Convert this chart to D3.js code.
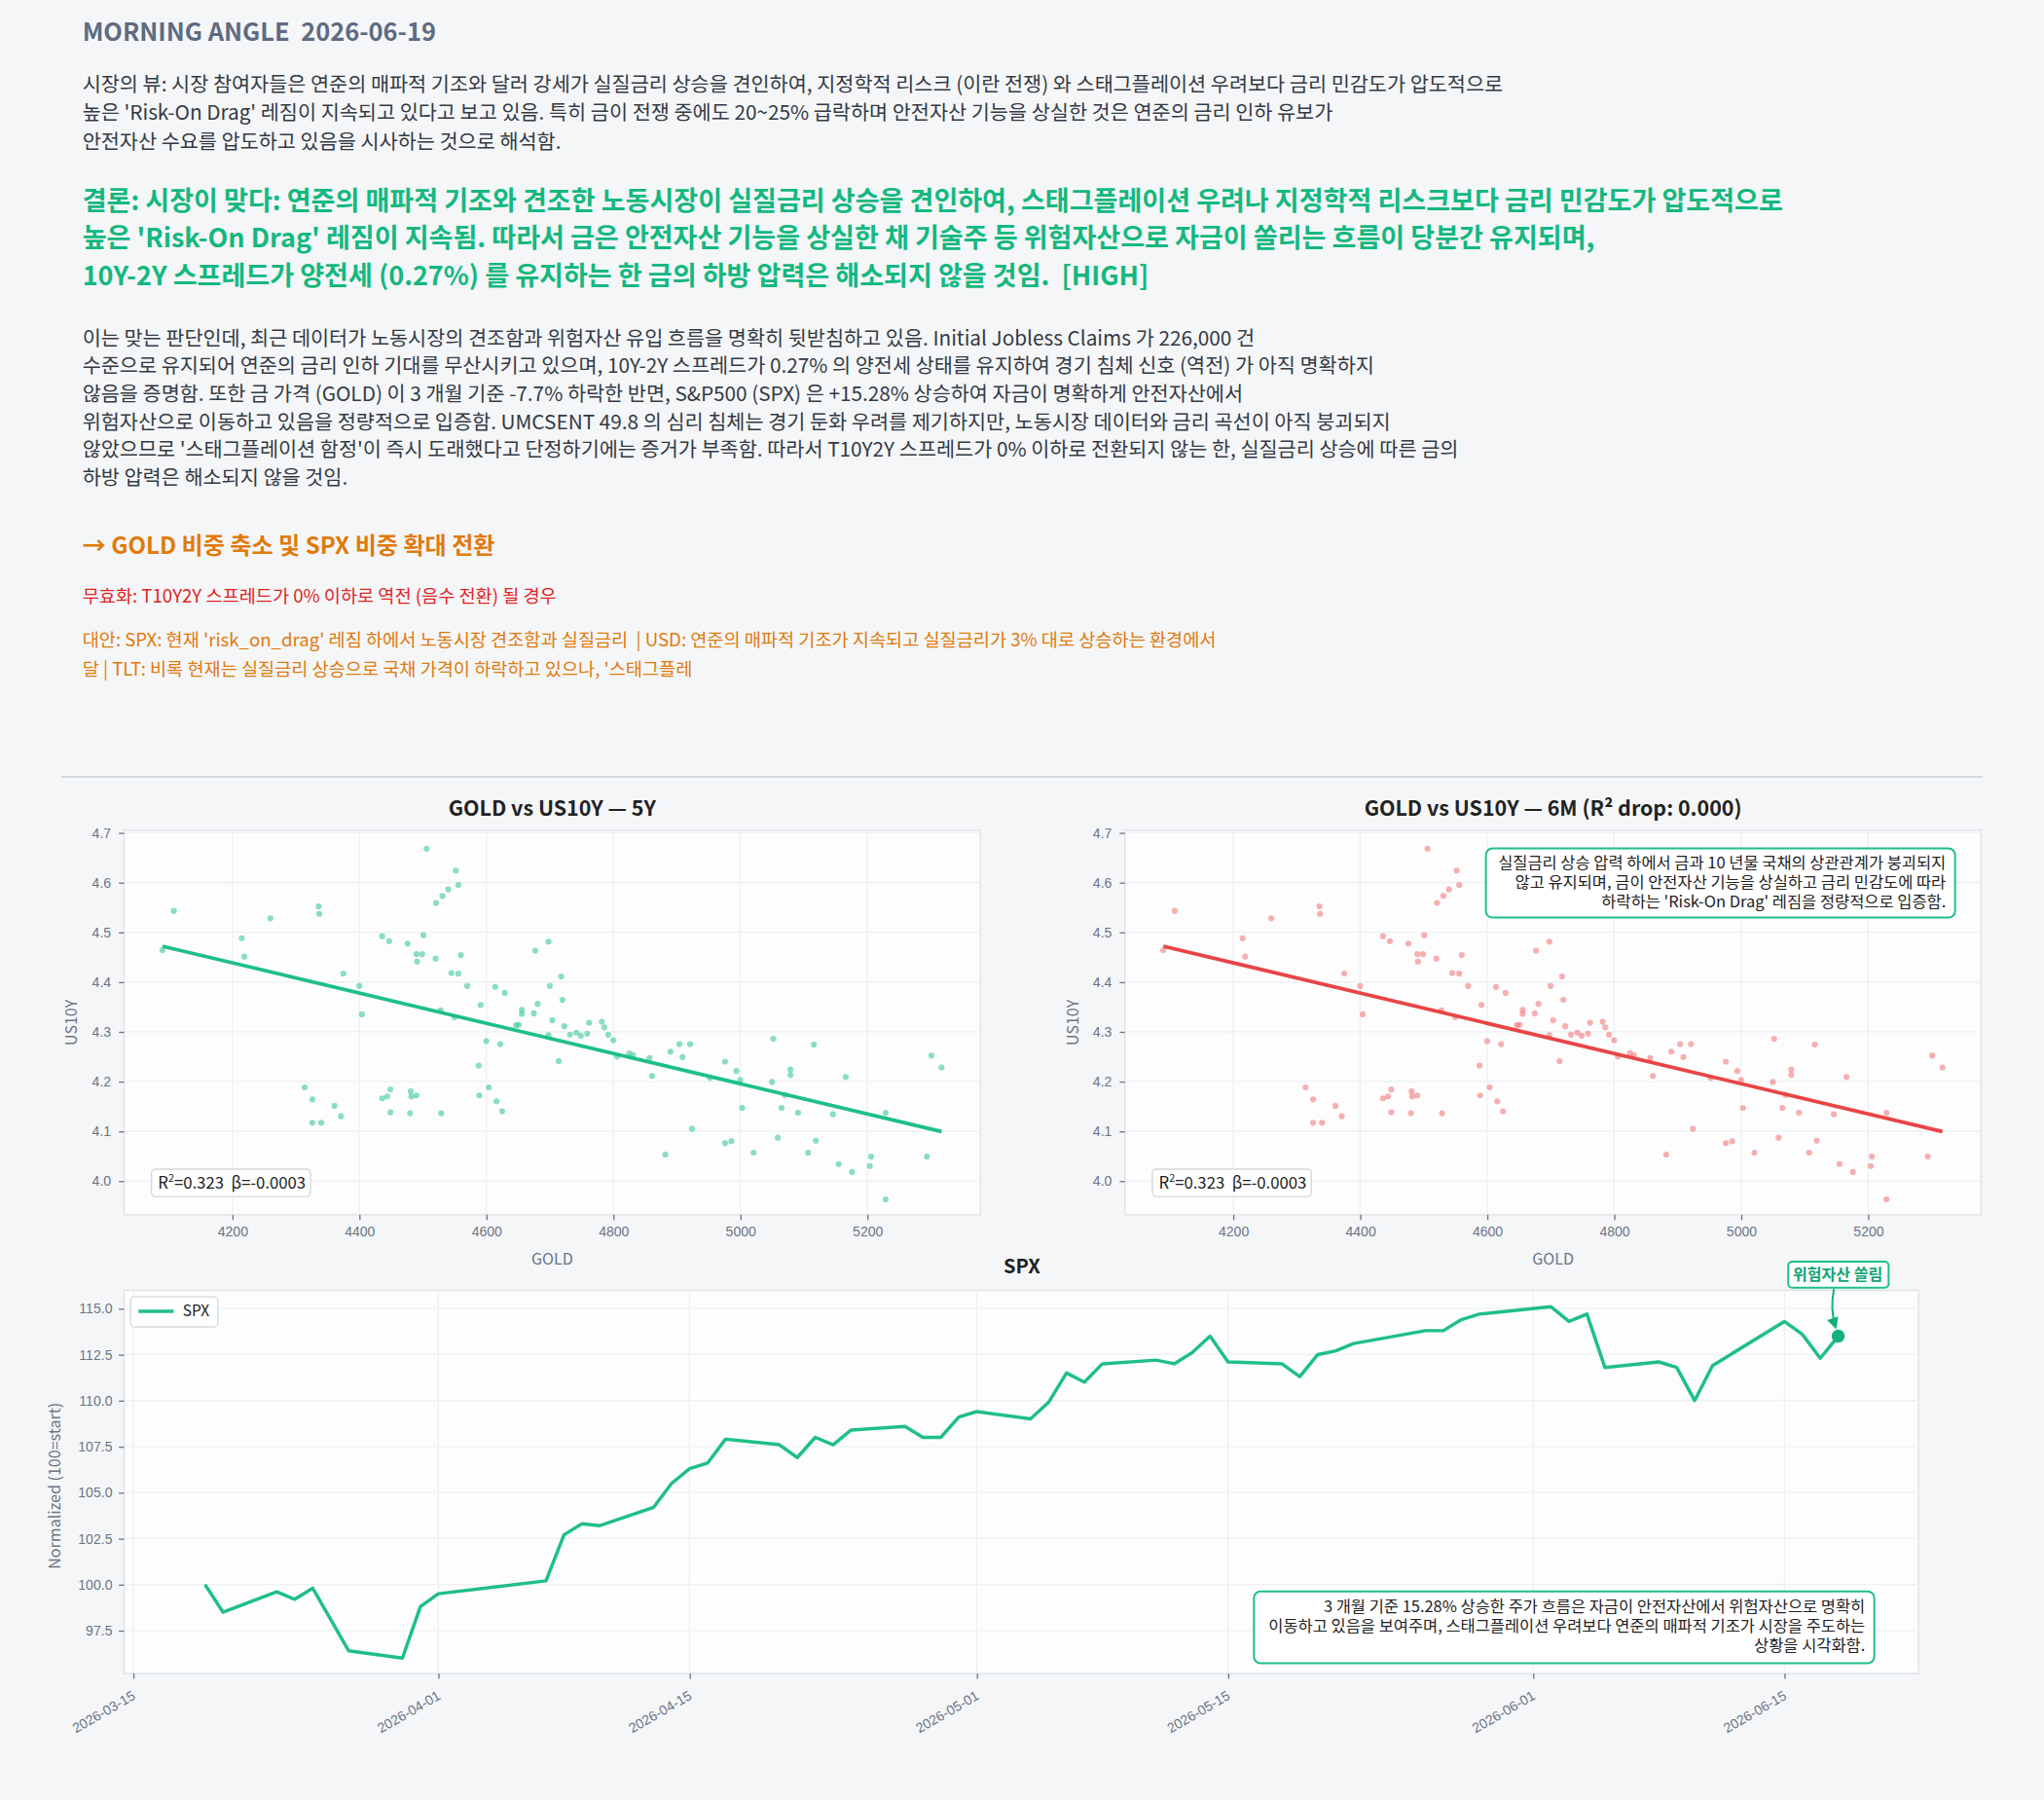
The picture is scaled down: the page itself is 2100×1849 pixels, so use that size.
<!DOCTYPE html>
<html><head><meta charset="utf-8">
<script src="https://cdn.jsdelivr.net/npm/d3@7"></script>
<style>body{margin:0;background:#f5f6f8;}svg{display:block;font-family:"Noto Sans CJK KR","Noto Sans",sans-serif;}text{white-space:pre;}</style>
</head><body><svg id="c" width="2100" height="1849" viewBox="0 0 1568 1381"></svg>
<script>
const gold=[4090,4108,4215,4219,4260,4336,4337,4314,4326,4326,4340,4361,4371,4375,4400,4404,4436,4447,4476,4501,4490,4499,4491,4506,4521,4531,4540,4552,4556,4520,4560,4545,4556,4570,4550,4528,4436,4444,4449,4449,4481,4482,4490,4480,4529,4589,4588,4600,4604,4616,4625,4622,4591,4614,4629,4647,4651,4656,4656,4675,4677,4681,4698,4700,4704,4714,4718,4720,4723,4698,4732,4742,4749,4759,4762,4782,4786,4792,4800,4806,4825,4831,4857,4861,4882,4890,4904,4909,4921,4924,4952,4976,4976,4986,4994,5000,5003,5021,5052,5050,5059,5065,5070,5079,5079,5091,5107,5116,5119,5146,5155,5166,5176,5204,5206,5229,5229,5294,5301,5317];
const us10y=[4.464,4.543,4.488,4.451,4.528,4.552,4.537,4.188,4.164,4.117,4.117,4.151,4.130,4.417,4.392,4.335,4.492,4.482,4.477,4.494,4.456,4.456,4.441,4.668,4.559,4.573,4.586,4.624,4.595,4.447,4.454,4.418,4.417,4.392,4.329,4.343,4.166,4.170,4.184,4.138,4.180,4.170,4.172,4.136,4.136,4.172,4.232,4.281,4.188,4.160,4.140,4.275,4.354,4.390,4.378,4.313,4.314,4.344,4.336,4.337,4.463,4.356,4.481,4.392,4.323,4.241,4.411,4.364,4.311,4.293,4.294,4.298,4.292,4.296,4.318,4.320,4.309,4.294,4.283,4.250,4.257,4.253,4.247,4.211,4.053,4.260,4.275,4.249,4.275,4.105,4.207,4.240,4.076,4.080,4.221,4.203,4.147,4.057,4.286,4.199,4.087,4.147,4.173,4.224,4.213,4.137,4.057,4.274,4.081,4.134,4.034,4.209,4.018,4.030,4.049,4.137,3.963,4.049,4.252,4.228];
const spxDates=["2026-03-19","2026-03-20","2026-03-23","2026-03-24","2026-03-25","2026-03-27","2026-03-30","2026-03-31","2026-04-01","2026-04-07","2026-04-08","2026-04-09","2026-04-10","2026-04-13","2026-04-14","2026-04-15","2026-04-16","2026-04-17","2026-04-20","2026-04-21","2026-04-22","2026-04-23","2026-04-24","2026-04-27","2026-04-28","2026-04-29","2026-04-30","2026-05-01","2026-05-04","2026-05-05","2026-05-06","2026-05-07","2026-05-08","2026-05-11","2026-05-12","2026-05-13","2026-05-14","2026-05-15","2026-05-18","2026-05-19","2026-05-20","2026-05-21","2026-05-22","2026-05-26","2026-05-27","2026-05-28","2026-05-29","2026-06-02","2026-06-03","2026-06-04","2026-06-05","2026-06-08","2026-06-09","2026-06-10","2026-06-11","2026-06-15","2026-06-16","2026-06-17","2026-06-18"];
const spxVals=[100.0,98.5,99.6,99.2,99.8,96.4,96.0,98.8,99.5,100.2,102.7,103.3,103.2,104.2,105.5,106.3,106.6,107.9,107.6,106.9,108.0,107.6,108.4,108.6,108.0,108.0,109.1,109.4,109.0,109.9,111.5,111.0,112.0,112.2,112.0,112.6,113.5,112.1,112.0,111.3,112.5,112.7,113.1,113.8,113.8,114.4,114.7,115.1,114.3,114.7,111.8,112.1,111.8,110.0,111.9,114.3,113.6,112.3,113.5];
const xTicks=[4200,4400,4600,4800,5000,5200];
const yTicks=[4.0,4.1,4.2,4.3,4.4,4.5,4.6,4.7];
const spxYTicks=[97.5,100,102.5,105,107.5,110,112.5,115];
const spxXTicks=["2026-03-15","2026-04-01","2026-04-15","2026-05-01","2026-05-15","2026-06-01","2026-06-15"];

const svg=d3.select("#c");
const GREEN="#1fbf85", TXT="#333a44", MUTED="#6b7585";
function lines(arr,x,y0,dy,size,color,weight,anchor){
  arr.forEach((t,i)=>svg.append("text").attr("x",x).attr("y",y0+i*dy).attr("font-size",size)
   .attr("fill",color).attr("font-weight",weight||400).attr("text-anchor",anchor||"start").text(t));
}
svg.append("text").attr("x",63).attr("y",31).attr("font-size",19).attr("font-weight",700).attr("fill","#5e6b82").text("MORNING ANGLE  2026-06-19");
lines(["시장의 뷰: 시장 참여자들은 연준의 매파적 기조와 달러 강세가 실질금리 상승을 견인하여, 지정학적 리스크 (이란 전쟁) 와 스태그플레이션 우려보다 금리 민감도가 압도적으로",
"높은 'Risk-On Drag' 레짐이 지속되고 있다고 보고 있음. 특히 금이 전쟁 중에도 20~25% 급락하며 안전자산 기능을 상실한 것은 연준의 금리 인하 유보가",
"안전자산 수요를 압도하고 있음을 시사하는 것으로 해석함."],63,70,22,15.5,TXT);
lines(["결론: 시장이 맞다: 연준의 매파적 기조와 견조한 노동시장이 실질금리 상승을 견인하여, 스태그플레이션 우려나 지정학적 리스크보다 금리 민감도가 압도적으로",
"높은 'Risk-On Drag' 레짐이 지속됨. 따라서 금은 안전자산 기능을 상실한 채 기술주 등 위험자산으로 자금이 쏠리는 흐름이 당분간 유지되며,",
"10Y-2Y 스프레드가 양전세 (0.27%) 를 유지하는 한 금의 하방 압력은 해소되지 않을 것임.  [HIGH]"],63,161,29,20.2,"#14b87f",700);
lines(["이는 맞는 판단인데, 최근 데이터가 노동시장의 견조함과 위험자산 유입 흐름을 명확히 뒷받침하고 있음. Initial Jobless Claims 가 226,000 건",
"수준으로 유지되어 연준의 금리 인하 기대를 무산시키고 있으며, 10Y-2Y 스프레드가 0.27% 의 양전세 상태를 유지하여 경기 침체 신호 (역전) 가 아직 명확하지",
"않음을 증명함. 또한 금 가격 (GOLD) 이 3 개월 기준 -7.7% 하락한 반면, S&P500 (SPX) 은 +15.28% 상승하여 자금이 명확하게 안전자산에서",
"위험자산으로 이동하고 있음을 정량적으로 입증함. UMCSENT 49.8 의 심리 침체는 경기 둔화 우려를 제기하지만, 노동시장 데이터와 금리 곡선이 아직 붕괴되지",
"않았으므로 '스태그플레이션 함정'이 즉시 도래했다고 단정하기에는 증거가 부족함. 따라서 T10Y2Y 스프레드가 0% 이하로 전환되지 않는 한, 실질금리 상승에 따른 금의",
"하방 압력은 해소되지 않을 것임."],63,265,21.4,15.5,TXT);
svg.append("text").attr("x",63).attr("y",425).attr("font-size",18).attr("font-weight",700).attr("fill","#e07a0c").text("→ GOLD 비중 축소 및 SPX 비중 확대 전환");
svg.append("text").attr("x",63).attr("y",462).attr("font-size",13.9).attr("fill","#e02424").text("무효화: T10Y2Y 스프레드가 0% 이하로 역전 (음수 전환) 될 경우");
lines(["대안: SPX: 현재 'risk_on_drag' 레짐 하에서 노동시장 견조함과 실질금리  | USD: 연준의 매파적 기조가 지속되고 실질금리가 3% 대로 상승하는 환경에서",
"달 | TLT: 비록 현재는 실질금리 상승으로 국채 가격이 하락하고 있으나, '스태그플레"],63,496,22,13.9,"#e07a0c");
svg.append("line").attr("x1",47).attr("x2",1521).attr("y1",596).attr("y2",596).attr("stroke","#c9ced6").attr("stroke-width",1.2);

const n=gold.length,mx=d3.mean(gold),my=d3.mean(us10y);
let sxy=0,sxx=0;for(let i=0;i<n;i++){sxy+=(gold[i]-mx)*(us10y[i]-my);sxx+=(gold[i]-mx)**2;}
const b=sxy/sxx,a=my-b*mx;
const gx=d3.extent(gold);

function scatter(x0,title,dot,lineC,annot){
  const L=x0,R=x0+657,T=637,B=932;
  const x=d3.scaleLinear().domain([4029.6,5378]).range([L,R]);
  const y=d3.scaleLinear().domain([3.932,4.705]).range([B,T]);
  svg.append("rect").attr("x",L).attr("y",T).attr("width",R-L).attr("height",B-T).attr("fill","#fdfdfe").attr("stroke","#dde1e7");
  const g=svg.append("g");
  xTicks.forEach(t=>g.append("line").attr("x1",x(t)).attr("x2",x(t)).attr("y1",T).attr("y2",B).attr("stroke","#edf0f3"));
  yTicks.forEach(t=>g.append("line").attr("x1",L).attr("x2",R).attr("y1",y(t)).attr("y2",y(t)).attr("stroke","#edf0f3"));
  const ax=svg.append("g").attr("transform",`translate(0,${B})`).call(d3.axisBottom(x).tickValues(xTicks).tickFormat(d3.format("d")).tickSize(4).tickPadding(5));
  const ay=svg.append("g").attr("transform",`translate(${L},0)`).call(d3.axisLeft(y).tickValues(yTicks).tickFormat(d3.format(".1f")).tickSize(4).tickPadding(6));
  [ax,ay].forEach(s=>{s.select(".domain").remove();s.selectAll("line").attr("stroke",MUTED);s.selectAll("text").attr("fill",MUTED).attr("font-size",10.5).attr("font-family","inherit");});
  svg.append("g").selectAll("circle").data(gold).join("circle").attr("cx",d=>x(d)).attr("cy",(d,i)=>y(us10y[i])).attr("r",2.3).attr("fill",dot).attr("opacity",0.6);
  svg.append("line").attr("x1",x(gx[0])).attr("x2",x(gx[1])).attr("y1",y(a+b*gx[0])).attr("y2",y(a+b*gx[1])).attr("stroke",lineC).attr("stroke-width",2.8);
  svg.append("text").attr("x",(L+R)/2).attr("y",626).attr("text-anchor","middle").attr("font-size",16).attr("font-weight",700).attr("fill","#222").text(title);
  svg.append("text").attr("x",(L+R)/2).attr("y",970).attr("text-anchor","middle").attr("font-size",12).attr("fill",MUTED).text("GOLD");
  svg.append("text").attr("transform",`translate(${L-36},${(T+B)/2}) rotate(-90)`).attr("text-anchor","middle").attr("font-size",12).attr("fill",MUTED).text("US10Y");
  svg.append("rect").attr("x",L+21).attr("y",897).attr("width",122).attr("height",21).attr("rx",3).attr("fill","#fff").attr("stroke","#d3d7dd");
  svg.append("text").attr("x",L+26).attr("y",912).attr("font-size",12.5).attr("fill","#222").html("R<tspan dy='-5' font-size='8'>2</tspan><tspan dy='5'>=0.323  β=-0.0003</tspan>");
  if(annot){
    svg.append("rect").attr("x",1140).attr("y",651).attr("width",360).attr("height",53).attr("rx",5).attr("fill","#fff").attr("stroke",GREEN).attr("stroke-width",1.5);
    lines(annot,1493,666,15,12.3,"#222",400,"end");
  }
}
scatter(95,"GOLD vs US10Y — 5Y","#3cc995",GREEN,null);
scatter(863,"GOLD vs US10Y — 6M (R² drop: 0.000)","#f07c7c","#e84545",
 ["실질금리 상승 압력 하에서 금과 10 년물 국채의 상관관계가 붕괴되지","않고 유지되며, 금이 안전자산 기능을 상실하고 금리 민감도에 따라","하락하는 'Risk-On Drag' 레짐을 정량적으로 입증함."]);

{
  const L=95,R=1472,T=990,B=1284;
  const p=d3.timeParse("%Y-%m-%d");
  const x=d3.scaleTime().domain([p("2026-03-15"),p("2026-06-15")]).range([102,1369]);
  const y=d3.scaleLinear().domain([95.16,115.99]).range([B,T]);
  svg.append("rect").attr("x",L).attr("y",T).attr("width",R-L).attr("height",B-T).attr("fill","#fdfdfe").attr("stroke","#dde1e7");
  spxXTicks.forEach(t=>svg.append("line").attr("x1",x(p(t))).attr("x2",x(p(t))).attr("y1",T).attr("y2",B).attr("stroke","#edf0f3"));
  spxYTicks.forEach(t=>svg.append("line").attr("x1",L).attr("x2",R).attr("y1",y(t)).attr("y2",y(t)).attr("stroke","#edf0f3"));
  const ax=svg.append("g").attr("transform",`translate(0,${B})`).call(d3.axisBottom(x).tickValues(spxXTicks.map(p)).tickFormat(d3.timeFormat("%Y-%m-%d")).tickSize(4));
  ax.selectAll("text").attr("text-anchor","end").attr("transform","translate(-2,6) rotate(-30)").attr("dx","-0.3em").attr("dy","0.6em");
  const ay=svg.append("g").attr("transform",`translate(${L},0)`).call(d3.axisLeft(y).tickValues(spxYTicks).tickFormat(d3.format(".1f")).tickSize(4).tickPadding(5));
  [ax,ay].forEach(s=>{s.select(".domain").remove();s.selectAll("line").attr("stroke",MUTED);s.selectAll("text").attr("fill",MUTED).attr("font-size",10.5).attr("font-family","inherit");});
  const pts=spxDates.map((d,i)=>[x(p(d)),y(spxVals[i])]);
  svg.append("path").attr("d",d3.line()(pts)).attr("fill","none").attr("stroke",GREEN).attr("stroke-width",2.6).attr("stroke-linejoin","round");
  const last=pts[pts.length-1];
  svg.append("circle").attr("cx",last[0]).attr("cy",last[1]).attr("r",5).attr("fill","#12b07a");
  svg.append("text").attr("x",784).attr("y",977).attr("text-anchor","middle").attr("font-size",15).attr("font-weight",700).attr("fill","#222").text("SPX");
  svg.append("text").attr("transform",`translate(46,${(T+B)/2+3}) rotate(-90)`).attr("text-anchor","middle").attr("font-size",12).attr("fill",MUTED).text("Normalized (100=start)");
  svg.append("rect").attr("x",100).attr("y",995).attr("width",67).attr("height",23).attr("rx",3).attr("fill","#fff").attr("stroke","#d3d7dd");
  svg.append("line").attr("x1",106).attr("x2",133).attr("y1",1006).attr("y2",1006).attr("stroke",GREEN).attr("stroke-width",2.6);
  svg.append("text").attr("x",140).attr("y",1010).attr("font-size",11.5).attr("fill","#222").text("SPX");
  svg.append("rect").attr("x",1372).attr("y",968).attr("width",77).attr("height",20).attr("rx",3).attr("fill","#fff").attr("stroke",GREEN).attr("stroke-width",1.5);
  svg.append("text").attr("x",1410).attr("y",982).attr("text-anchor","middle").attr("font-size",12).attr("font-weight",700).attr("fill","#12a572").text("위험자산 쏠림");
  svg.append("defs").html(`<marker id="ah" viewBox="0 0 10 10" refX="8" refY="5" markerWidth="6" markerHeight="6" orient="auto"><path d="M0,0L10,5L0,10z" fill="#12b07a"/></marker>`);
  svg.append("path").attr("d",`M1407,989 Q1404,1005 ${last[0]-2},${last[1]-7}`).attr("fill","none").attr("stroke","#12b07a").attr("stroke-width",1.5).attr("marker-end","url(#ah)");
  svg.append("rect").attr("x",962).attr("y",1221).attr("width",476).attr("height",55).attr("rx",5).attr("fill","#fff").attr("stroke",GREEN).attr("stroke-width",1.5);
  lines(["3 개월 기준 15.28% 상승한 주가 흐름은 자금이 안전자산에서 위험자산으로 명확히","이동하고 있음을 보여주며, 스태그플레이션 우려보다 연준의 매파적 기조가 시장을 주도하는","상황을 시각화함."],1431,1237,15,12.3,"#222",400,"end");
}
</script></body></html>
